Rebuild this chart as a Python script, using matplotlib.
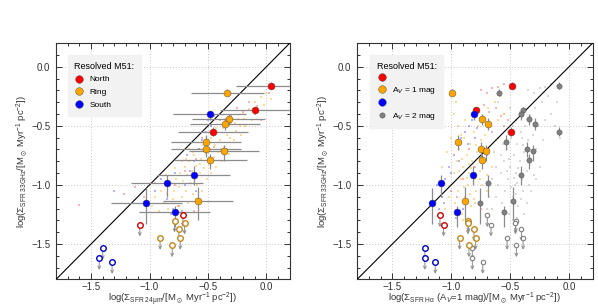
import matplotlib
matplotlib.use("Agg")
import matplotlib.pyplot as plt
from matplotlib.lines import Line2D
from matplotlib.ticker import MultipleLocator, FuncFormatter

plt.rcParams['font.family'] = ['Liberation Sans', 'DejaVu Sans']
plt.rcParams['mathtext.fontset'] = 'custom'
plt.rcParams['mathtext.rm'] = 'Liberation Sans'
plt.rcParams['mathtext.it'] = 'Liberation Sans:italic'
plt.rcParams['mathtext.bf'] = 'Liberation Sans:bold'
plt.rcParams['mathtext.fallback'] = 'stixsans'

# ---------------- data ----------------
# 33 GHz SFR surface density (shared y-values) for resolved regions: North, Ring, South
y_north = [-0.161, -0.367, -0.548]
y_ring = [-0.218, -0.444, -0.486, -0.636, -0.695, -0.715, -0.785, -1.138]
y_south = [-0.401, -0.918, -0.986, -1.153, -1.232]
# asymmetric y errors (down, up)
yerr_north_lo = [0.03, 0.03, 0.04]
yerr_north_hi = [0.03, 0.03, 0.04]
yerr_ring_lo = [0.03, 0.05, 0.05, 0.07, 0.07, 0.08, 0.08, 0.16]
yerr_ring_hi = [0.03, 0.04, 0.05, 0.06, 0.06, 0.05, 0.05, 0.12]
yerr_south_lo = [0.05, 0.08, 0.12, 0.18, 0.12]
yerr_south_hi = [0.03, 0.08, 0.07, 0.13, 0.05]

# left: 24um SFR
x24_north = [0.043, -0.094, -0.457]
x24_ring = [-0.334, -0.323, -0.354, -0.514, -0.517, -0.366, -0.480, -0.583]
x24_south = [-0.486, -0.623, -0.851, -1.026, -0.786]
xerr24_north = [0.30, 0.30, 0.30]
xerr24_ring = [0.31, 0.31, 0.30, 0.30, 0.30, 0.30, 0.31, 0.30]
xerr24_south = [0.31, 0.31, 0.31, 0.30, 0.30]

# right: Halpha (Av=1 mag) and (Av=2 mag)
xha1_north = [-0.487, -0.788, -0.490]
xha1_ring = [-0.997, -0.743, -0.687, -0.940, -0.750, -0.706, -0.737, -0.881]
xha1_south = [-0.810, -0.816, -1.090, -1.160, -0.952]
xha2_north = [-0.088, -0.390, -0.088]
xha2_ring = [-0.594, -0.339, -0.289, -0.537, -0.353, -0.306, -0.340, -0.476]
xha2_south = [-0.404, -0.410, -0.688, -0.759, -0.555]

# upper limits (33 GHz)
ylim_north = [-1.336, -1.257]
ylim_ring = [-1.302, -1.319, -1.376, -1.449, -1.449, -1.511]
ylim_south = [-1.531, -1.619, -1.653]
x24lim_north = [-1.083, -0.714]
x24lim_ring = [-0.786, -0.700, -0.749, -0.909, -0.737, -0.806]
x24lim_south = [-1.400, -1.430, -1.320]
xha1lim_north = [-1.065, -1.096]
xha1lim_ring = [-0.855, -0.858, -0.807, -0.929, -0.793, -0.850]
xha1lim_south = [-1.224, -1.224, -1.136]
xha2lim = [-0.663, -0.694, -0.452, -0.455, -0.404, -0.526, -0.390, -0.447, -0.821, -0.821, -0.733]
ylim_av2 = [-1.336, -1.257, -1.302, -1.319, -1.376, -1.449, -1.449, -1.511, -1.531, -1.619, -1.653]

# pixel clouds (left panel)
cl_orange_x = [-0.98, -0.95, -0.92, -0.90, -0.88, -0.85, -0.84, -0.82, -0.80, -0.79, -0.77, -0.76, -0.75, -0.74,
               -0.72, -0.71, -0.70, -0.69, -0.68, -0.67, -0.66, -0.65, -0.64, -0.63, -0.62, -0.61, -0.60, -0.59,
               -0.58, -0.57, -0.56, -0.55, -0.54, -0.53, -0.52, -0.51, -0.50, -0.49, -0.48, -0.47, -0.46, -0.45,
               -0.44, -0.43, -0.42, -0.41, -0.40, -0.38, -0.37, -0.36, -0.34, -0.32, -0.30, -0.28, -0.26, -0.24,
               -0.22, -0.20, -0.18, -0.15, -0.12, -0.10, -0.07, -0.05, -0.02, 0.00, 0.04, -0.60, -0.66, -0.72,
               -0.86, -0.78, -0.69, -0.63, -0.57, -0.53, -0.47, -0.43, -0.39, -0.35, -0.31, -0.27, -0.23, -0.19]
cl_orange_y = [-1.18, -1.10, -1.22, -1.05, -1.15, -1.08, -1.20, -0.98, -1.12, -1.05, -0.95, -1.18, -1.02, -0.90,
               -1.10, -0.97, -0.85, -1.05, -0.92, -1.15, -0.80, -0.98, -0.88, -1.08, -0.75, -0.95, -0.84, -1.00,
               -0.70, -0.90, -0.78, -1.05, -0.66, -0.86, -0.74, -0.95, -0.62, -0.82, -0.70, -0.90, -0.58, -0.76,
               -0.66, -0.85, -0.55, -0.72, -0.62, -0.80, -0.52, -0.68, -0.58, -0.74, -0.48, -0.62, -0.54, -0.44,
               -0.58, -0.40, -0.50, -0.36, -0.45, -0.30, -0.38, -0.26, -0.32, -0.22, -0.27, -1.12, -0.70, -0.80,
               -0.92, -0.86, -0.78, -0.72, -0.82, -0.64, -0.60, -0.52, -0.70, -0.46, -0.60, -0.48, -0.50, -0.44]
cl_red_x = [-1.60, -1.22, -1.12, -1.05, -0.95, -0.78, -0.70, -0.60, -0.55, -0.48, -0.45, -0.40, -0.30, -0.25,
            -0.20, -0.15, -0.10, -0.08, 0.02, -0.05, -0.75, -0.62]
cl_red_y = [-1.17, -1.08, -1.02, -1.10, -0.98, -1.00, -0.88, -0.78, -0.60, -0.55, -0.68, -0.45, -0.42, -0.35,
            -0.38, -0.30, -0.40, -0.33, -0.22, -0.45, -1.18, -1.22]
cl_blue_x = [-1.30, -1.05, -0.95, -0.90, -0.85, -0.80, -0.78, -0.72, -0.70, -0.65, -0.62, -0.60, -0.58, -0.55,
             -0.52, -0.50, -0.47, -0.45, -0.82, -0.68]
cl_blue_y = [-1.05, -1.15, -1.05, -0.95, -1.12, -1.20, -0.90, -1.22, -1.00, -0.88, -0.80, -1.05, -0.70, -0.62,
             -0.55, -0.45, -0.50, -0.42, -1.25, -0.75]

# pixel clouds (right panel)
cr_orange_x = [-1.05, -1.02, -1.00, -0.98, -0.97, -0.95, -0.94, -0.93, -0.92, -0.91, -0.90, -0.89, -0.88, -0.87,
               -0.86, -0.85, -0.84, -0.83, -0.82, -0.81, -0.80, -0.79, -0.78, -0.77, -0.76, -0.75, -0.74, -0.73,
               -0.72, -0.71, -0.70, -0.69, -0.68, -0.66, -0.65, -0.63, -0.62, -0.60, -0.58, -0.55, -0.98, -0.96,
               -0.94, -1.00, -0.90, -0.86, -0.88, -1.08, -1.04, -0.95, -0.84, -0.80, -0.92, -0.76, -0.70,
               -0.89, -0.87, -0.83, -0.81, -0.93, -0.91, -0.85, -0.79]
cr_orange_y = [-1.20, -1.10, -1.00, -0.90, -1.15, -0.80, -1.05, -0.70, -0.95, -1.25, -0.85, -0.60, -1.10, -0.75,
               -1.00, -0.90, -0.65, -1.18, -0.80, -0.55, -0.95, -1.05, -0.72, -0.50, -0.88, -0.62, -1.00, -0.42,
               -0.80, -0.58, -0.92, -0.35, -0.70, -0.50, -0.85, -0.30, -0.62, -0.45, -0.25, -0.40, -0.40, -0.30,
               -0.50, -0.60, -1.30, -1.28, -0.45, -0.85, -0.72, -1.22, -1.08, -1.15, -0.58, -0.95, -1.05,
               -1.02, -0.94, -0.86, -1.12, -0.88, -0.78, -0.82, -0.66]
cr_red_x = [-0.75, -0.70, -0.65, -0.60, -0.55, -0.72, -0.68, -0.62, -0.58, -0.55, -0.60, -0.65, -0.85, -0.90,
            -0.95, -1.00, -0.80, -0.75, -0.70, -0.52]
cr_red_y = [-0.20, -0.22, -0.18, -0.17, -0.15, -0.32, -0.38, -0.35, -0.42, -0.50, -0.60, -0.55, -0.70, -0.95,
            -1.10, -1.05, -0.85, -1.20, -0.75, -0.45]
cr_blue_x = [-1.10, -1.08, -1.05, -1.02, -1.00, -0.98, -0.95, -0.92, -0.90, -0.88, -0.85, -0.82, -0.80, -0.78,
             -0.75, -1.12, -0.96, -0.86, -0.93, -1.06]
cr_blue_y = [-1.20, -1.10, -0.95, -0.85, -0.90, -0.75, -0.65, -0.60, -1.20, -0.55, -0.50, -0.45, -0.60, -0.52,
             -0.70, -1.00, -1.28, -0.65, -0.80, -1.15]
cr_gray_x = [-0.65, -0.62, -0.60, -0.58, -0.57, -0.55, -0.54, -0.53, -0.52, -0.51, -0.50, -0.49, -0.48, -0.47,
             -0.46, -0.45, -0.44, -0.43, -0.42, -0.41, -0.40, -0.39, -0.38, -0.37, -0.36, -0.35, -0.34, -0.33,
             -0.32, -0.31, -0.30, -0.29, -0.28, -0.26, -0.25, -0.23, -0.22, -0.20, -0.18, -0.15, -0.35, -0.30,
             -0.25, -0.20, -0.15, -0.12, -0.10, -0.08, -0.70, -0.68, -0.65, -0.62, -0.58, -0.56, -0.52, -0.48,
             -0.45, -0.40, -0.38, -0.44, -0.56, -0.60, -0.55, -0.50, -0.42, -0.36, -0.32, -0.28, -0.48, -0.64,
             -0.49, -0.47, -0.43, -0.41, -0.53, -0.51, -0.45, -0.39, -0.46, -0.44]
cr_gray_y = [-1.20, -1.10, -1.00, -0.90, -1.15, -0.80, -1.05, -0.70, -0.95, -1.25, -0.85, -0.60, -1.10, -0.75,
             -1.00, -0.90, -0.65, -1.18, -0.80, -0.55, -0.95, -1.05, -0.72, -0.50, -0.88, -0.62, -1.00, -0.42,
             -0.80, -0.58, -0.92, -0.35, -0.70, -0.50, -0.85, -0.30, -0.62, -0.45, -0.25, -0.40, -0.20, -0.22,
             -0.18, -0.17, -0.15, -0.50, -0.30, -0.60, -1.20, -1.10, -0.95, -0.85, -0.75, -0.65, -0.55, -0.50,
             -0.45, -0.60, -1.25, -1.28, -1.22, -0.30, -0.40, -0.35, -0.38, -1.15, -1.05, -0.95, -1.30, -0.72,
             -1.02, -0.94, -0.86, -1.12, -0.88, -0.78, -1.08, -0.66, -1.16, -0.98]

# ---------------- styling ----------------
RED, ORANGE, BLUE, GRAY = '#ff0000', '#ffa500', '#0000ff', '#808080'
RED_E, ORANGE_E, BLUE_E = '#cc0000', '#c0881c', '#0000c8'
ERRC = '#8c8c8c'

fig = plt.figure(figsize=(5.98, 3.07), dpi=100)
axL = fig.add_axes([0.0936, 0.0896, 0.391, 0.770])
axR = fig.add_axes([0.597, 0.0896, 0.394, 0.770])


def fmt(v, pos):
    s = '%.1f' % v
    if s == '-0.0':
        s = '0.0'
    return s.replace('-', '\u2212')


def setup(ax, xlabel):
    ax.set_xlim(-1.8, 0.2)
    ax.set_ylim(-1.8, 0.2)
    ax.xaxis.set_major_locator(MultipleLocator(0.5))
    ax.yaxis.set_major_locator(MultipleLocator(0.5))
    ax.xaxis.set_minor_locator(MultipleLocator(0.1))
    ax.yaxis.set_minor_locator(MultipleLocator(0.1))
    ax.xaxis.set_major_formatter(FuncFormatter(fmt))
    ax.yaxis.set_major_formatter(FuncFormatter(fmt))
    ax.tick_params(which='both', direction='in', top=True, right=True, labelsize=7,
                   colors='#333333', labelcolor='#333333', width=0.7)
    ax.tick_params(which='major', length=4)
    ax.tick_params(axis='x', which='major', pad=2)
    ax.tick_params(axis='y', which='major', pad=4)
    ax.tick_params(which='minor', length=2)
    for s in ax.spines.values():
        s.set_color('#333333')
        s.set_linewidth(0.8)
    ax.grid(True, which='major', ls=(0, (1, 2)), color='#c8c8c8', lw=0.7)
    ax.set_axisbelow(True)
    ax.plot([-1.8, 0.2], [-1.8, 0.2], color='black', lw=0.8, zorder=3)
    ax.set_xlabel(xlabel, fontsize=6.8, color='#333333', labelpad=-1)
    ax.set_ylabel(r'log($\Sigma_{\rm SFR\ 33GHz}$/[M$_\odot$ Myr$^{-1}$ pc$^{-2}$])',
                  fontsize=6.8, color='#333333', labelpad=1)


def cloud(ax, xs, ys, c, a):
    ax.scatter(xs, ys, s=4, marker='s', c=c, alpha=a, linewidths=0, zorder=2)


def limits(ax, xs, ys, ec, ms=4.0, mew=1.0):
    for x, y in zip(xs, ys):
        ax.annotate('', xy=(x, y - 0.10), xytext=(x, y - 0.02),
                    arrowprops=dict(arrowstyle='->', color=ERRC, lw=0.7,
                                    shrinkA=0, shrinkB=0, mutation_scale=5), zorder=3)
    ax.plot(xs, ys, 'o', ms=ms, mfc='white', mec=ec, mew=mew, ls='none', zorder=5)


def points(ax, xs, ys, ylo, yhi, color, xerr=None, ms=5.0):
    ax.errorbar(xs, ys, yerr=[ylo, yhi], xerr=xerr, fmt='none', ecolor=ERRC, elinewidth=0.9,
                capsize=0, zorder=4)
    ax.plot(xs, ys, 'o', ms=ms, mfc=color, mec='#444444', mew=0.3, ls='none', zorder=6)


# ---- left panel ----
setup(axL, r'log($\Sigma_{\rm SFR\ 24\mu m}$/[M$_\odot$ Myr$^{-1}$ pc$^{-2}$])')
cloud(axL, cl_orange_x, cl_orange_y, ORANGE, 0.4)
cloud(axL, cl_red_x, cl_red_y, RED, 0.3)
cloud(axL, cl_blue_x, cl_blue_y, BLUE, 0.3)
points(axL, x24_north, y_north, yerr_north_lo, yerr_north_hi, RED, xerr=xerr24_north)
points(axL, x24_ring, y_ring, yerr_ring_lo, yerr_ring_hi, ORANGE, xerr=xerr24_ring)
points(axL, x24_south, y_south, yerr_south_lo, yerr_south_hi, BLUE, xerr=xerr24_south)
limits(axL, x24lim_north, ylim_north, RED_E)
limits(axL, x24lim_ring, ylim_ring, ORANGE_E)
limits(axL, x24lim_south, ylim_south, BLUE_E)

hL = [Line2D([], [], marker='o', ls='none', ms=5.5, mfc=c, mec='#444444', mew=0.3)
      for c in (RED, ORANGE, BLUE)]
legL = axL.legend(hL, ['North', 'Ring', 'South'], title='Resolved M51:', loc='upper left',
                  bbox_to_anchor=(0.05, 0.95), fontsize=6, title_fontsize=6.5, frameon=True,
                  fancybox=False, facecolor='#f2f2f2', edgecolor='#f2f2f2', framealpha=1,
                  alignment='left', handletextpad=0.6, labelspacing=0.6, borderpad=0.8,
                  handlelength=1.2, borderaxespad=0)
legL.set_zorder(10)

# ---- right panel ----
setup(axR, r'log($\Sigma_{\rm SFR\ H\alpha}$ (A$_V$=1 mag)/[M$_\odot$ Myr$^{-1}$ pc$^{-2}$])')
cloud(axR, cr_gray_x, cr_gray_y, '#a0a0a0', 0.4)
cloud(axR, cr_orange_x, cr_orange_y, ORANGE, 0.4)
cloud(axR, cr_red_x, cr_red_y, RED, 0.3)
cloud(axR, cr_blue_x, cr_blue_y, BLUE, 0.3)
points(axR, xha2_north, y_north, yerr_north_lo, yerr_north_hi, GRAY, ms=3.8)
points(axR, xha2_ring, y_ring, yerr_ring_lo, yerr_ring_hi, GRAY, ms=3.8)
points(axR, xha2_south, y_south, yerr_south_lo, yerr_south_hi, GRAY, ms=3.8)
points(axR, xha1_north, y_north, yerr_north_lo, yerr_north_hi, RED)
points(axR, xha1_ring, y_ring, yerr_ring_lo, yerr_ring_hi, ORANGE)
points(axR, xha1_south, y_south, yerr_south_lo, yerr_south_hi, BLUE)
limits(axR, xha2lim, ylim_av2, GRAY, ms=3.2, mew=0.8)
limits(axR, xha1lim_north, ylim_north, RED_E)
limits(axR, xha1lim_ring, ylim_ring, ORANGE_E)
limits(axR, xha1lim_south, ylim_south, BLUE_E)

hR = [Line2D([], [], marker='o', ls='none', ms=5.5, mfc=c, mec='#444444', mew=0.3)
      for c in (RED, ORANGE, BLUE)]
hR.append(Line2D([], [], marker='o', ls='none', ms=3.8, mfc=GRAY, mec='#444444', mew=0.3))
legR = axR.legend(hR, ['', r'A$_V$ = 1 mag', '', r'A$_V$ = 2 mag'], title='Resolved M51:',
                  loc='upper left', bbox_to_anchor=(0.055, 0.95), fontsize=6, title_fontsize=6.5,
                  frameon=True, fancybox=False, facecolor='#f2f2f2', edgecolor='#f2f2f2',
                  framealpha=1, alignment='left', handletextpad=0.6, labelspacing=0.4,
                  borderpad=0.8, handlelength=1.2, borderaxespad=0)
legR.set_zorder(10)

fig.savefig('out.png', dpi=100)
